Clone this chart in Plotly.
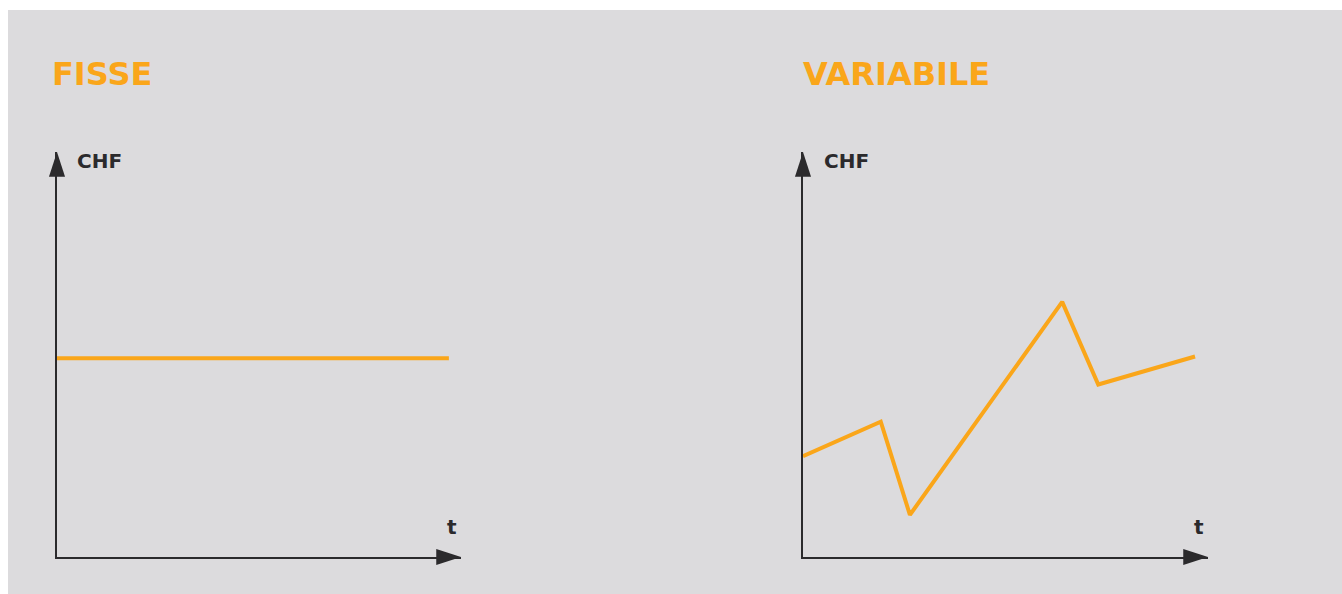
import plotly.graph_objects as go

W, H = 1342, 594

# ---- data ----
titles = ["FISSE", "VARIABILE"]
y_label = "CHF"
x_label = "t"
fixed_t = [0, 97.0]
fixed_chf = [49.1, 49.1]
var_t = [0, 19.2, 26.4, 64.0, 72.9, 96.8]
var_chf = [24.9, 33.4, 10.4, 63.0, 42.6, 49.5]
axis_end = 100

ORANGE = "#FAA61A"
DARK = "#2b2a2c"
BG = "#DCDBDD"
FONT = "DejaVu Sans"


def px_x(p):
    return p / W


def px_y(p):
    return 1 - p / H


fig = go.Figure()
fig.add_trace(go.Scatter(x=fixed_t, y=fixed_chf, mode="lines",
                         line=dict(color=ORANGE, width=4), xaxis="x", yaxis="y",
                         hoverinfo="skip", showlegend=False))
fig.add_trace(go.Scatter(x=var_t, y=var_chf, mode="lines",
                         line=dict(color=ORANGE, width=4),
                         xaxis="x2", yaxis="y2", hoverinfo="skip", showlegend=False))

# arrow heads at the ends of both axes
for xa, ya in [("x", "y"), ("x2", "y2")]:
    fig.add_trace(go.Scatter(
        x=[axis_end, 0], y=[0, axis_end], mode="markers",
        marker=dict(symbol="arrow", size=26, angle=[90, 0], color=DARK,
                    line=dict(width=0)),
        xaxis=xa, yaxis=ya, cliponaxis=False,
        hoverinfo="skip", showlegend=False))

ax_common = dict(showgrid=False, zeroline=False, showticklabels=False,
                 showline=True, linecolor=DARK, linewidth=2, mirror=False,
                 ticks="", range=[0, axis_end], fixedrange=True)

ydom = [px_y(557), px_y(152)]
fig.update_layout(
    width=W, height=H,
    margin=dict(l=0, r=0, t=0, b=0),
    paper_bgcolor="white",
    plot_bgcolor="rgba(0,0,0,0)",
    hovermode=False,
    xaxis=dict(domain=[px_x(57), px_x(461)], anchor="y", **ax_common),
    yaxis=dict(domain=ydom, anchor="x", **ax_common),
    xaxis2=dict(domain=[px_x(803), px_x(1208)], anchor="y2", **ax_common),
    yaxis2=dict(domain=ydom, anchor="x2", **ax_common),
    shapes=[dict(type="rect", xref="paper", yref="paper",
                 x0=px_x(8), x1=1, y0=0, y1=px_y(10),
                 fillcolor=BG, line=dict(width=0), layer="below")],
)

annotations = []
for title, xp in zip(titles, [50, 801]):
    annotations.append(dict(
        x=px_x(xp), y=px_y(74), xref="paper", yref="paper",
        xanchor="left", yanchor="middle", showarrow=False,
        text="<b>%s</b>" % title,
        font=dict(family=FONT, size=32, color=ORANGE)))

for xc, xt in [(75, 452), (822, 1199)]:
    annotations.append(dict(
        x=px_x(xc), y=px_y(161), xref="paper", yref="paper",
        xanchor="left", yanchor="middle", showarrow=False,
        text="<b>%s</b>" % y_label,
        font=dict(family=FONT, size=20, color=DARK)))
    annotations.append(dict(
        x=px_x(xt), y=px_y(527), xref="paper", yref="paper",
        xanchor="center", yanchor="middle", showarrow=False,
        text="<b>%s</b>" % x_label,
        font=dict(family=FONT, size=20, color=DARK)))

fig.update_layout(annotations=annotations)
fig.write_html(
    "out.html",
    config={"displayModeBar": False, "staticPlot": True},
    post_script="document.body.style.margin='0';document.body.style.overflow='hidden';",
)
